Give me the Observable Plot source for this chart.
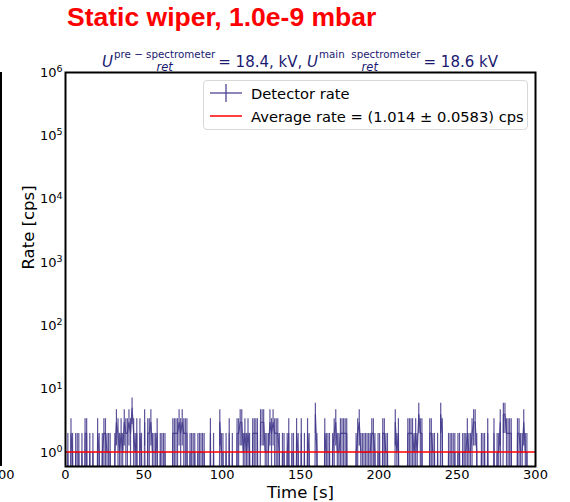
<!DOCTYPE html>
<html>
<head>
<meta charset="utf-8">
<script src="https://cdn.jsdelivr.net/npm/d3@7"></script>
<script src="https://cdn.jsdelivr.net/npm/@observablehq/plot@0.6"></script>
<style>
  html, body { margin: 0; padding: 0; background: #fff; }
  #wrap { position: relative; width: 570px; height: 502px; overflow: hidden; font-family: "DejaVu Sans", sans-serif; }
  #title { position: absolute; left: 67px; top: 2px; font-family: "Liberation Sans", Arial, sans-serif; font-weight: bold; font-size: 26.5px; color: #ff0000; white-space: nowrap; }
  #subtitle { position: absolute; left: 0; width: 600px; top: 51px; text-align: center; font-size: 15px; color: #191970; white-space: nowrap; }
  .ss { display: inline-flex; flex-direction: column; vertical-align: middle; line-height: 1.05; font-size: 10.3px; margin-left: 1px; margin-right: 3px; position: relative; top: -2px; gap: 1px; }
  .ss .sub { font-style: italic; font-size: 11.5px; }
  #legend { position: absolute; left: 203px; top: 80px; width: 323px; height: 48px; border: 1px solid #d8d8d8; border-radius: 4px; background: #fff; font-size: 14.7px; color: #000; }
  .item { position: absolute; left: 6px; display: flex; align-items: center; white-space: nowrap; }
  .item svg { margin-right: 9px; }
  #edge { position: absolute; left: 0; top: 72px; width: 2px; height: 394px; background: #000; }
  #edge00 { position: absolute; left: -2px; top: 467px; font-size: 13px; color: #000; }
</style>
</head>
<body>
<div id="wrap">
  <div id="chart"></div>
  <div id="edge"></div>
  <div id="edge00">00</div>
  <div id="title">Static wiper, 1.0e-9 mbar</div>
  <div id="subtitle"><i>U</i><span class="ss"><span>pre − spectrometer</span><span class="sub">ret</span></span>= 18.4, kV, <i>U</i><span class="ss"><span>main&nbsp; spectrometer</span><span class="sub">ret</span></span>= 18.6 kV</div>
  <div id="legend">
    <div class="item" style="top:2px"><svg width="32" height="20"><line x1="0" y1="10" x2="32" y2="10" stroke="#3f3689" stroke-width="1.2"/><line x1="16" y1="1" x2="16" y2="19" stroke="#3f3689" stroke-width="1.2"/></svg><span>Detector rate</span></div>
    <div class="item" style="top:25px"><svg width="32" height="20"><line x1="0" y1="10" x2="32" y2="10" stroke="#ff0000" stroke-width="1.5"/></svg><span>Average rate = (1.014 ± 0.0583) cps</span></div>
  </div>
</div>
<script>
// counts per 1 s bin (rate in cps)
const counts = [
  0,1,0,2,1,0,1,1,1,0,
  1,0,2,2,0,1,0,1,0,0,
  2,1,0,1,2,2,1,1,1,0,
  0,1,3,2,1,2,1,3,2,2,
  3,2,5,2,1,2,0,2,1,0,
  3,0,2,2,3,1,1,1,2,0,
  1,1,1,1,0,0,0,0,2,2,
  2,2,3,2,3,2,2,2,0,1,
  1,1,1,0,1,1,1,1,1,0,
  0,0,2,0,1,0,0,0,3,1,
  1,0,1,0,2,0,1,0,0,2,
  2,3,3,1,2,1,2,1,0,2,
  2,2,2,0,3,3,3,1,1,1,
  3,2,3,2,2,2,1,0,1,1,
  0,1,2,0,1,1,0,2,1,0,
  2,0,1,0,2,1,0,0,0,4,
  1,0,0,0,0,2,1,1,1,0,
  1,2,3,1,1,2,2,2,2,2,
  0,0,0,0,0,1,2,3,1,1,
  1,1,1,1,1,2,2,1,0,1,
  1,0,2,2,1,1,0,0,0,0,
  3,1,2,0,0,0,0,0,2,2,
  2,2,1,2,1,4,2,2,0,0,
  0,0,2,2,1,1,0,1,0,4,
  2,0,0,0,1,1,1,1,1,0,
  1,1,0,1,1,1,2,1,1,2,
  3,3,1,0,0,1,1,1,0,2,
  0,0,0,2,0,1,1,3,0,4,
  4,2,2,2,2,0,0,0,2,2,
  1,1,3,1,1,0,0,0,0,0
];
const times = counts.map((_, i) => i + 0.5);
const averageRate = 1.014;
const yTicks = [1, 10, 100, 1000, 10000, 100000, 1000000];
const yTickExponents = ["0", "1", "2", "3", "4", "5", "6"];
const xTicks = [0, 50, 100, 150, 200, 250, 300];

const floorVal = 1e-3; // stands for non-positive values on the log axis (clipped)
const pts = counts.map((n, i) => ({t: times[i], n}));
const bars = pts.filter(d => d.n > 0);
const dataColor = "#3f3689";

const chart = Plot.plot({
  width: 570,
  height: 502,
  marginTop: 72,
  marginBottom: 36,
  marginLeft: 65,
  marginRight: 35,
  style: {fontFamily: "DejaVu Sans, sans-serif", fontSize: "13px", color: "#000", background: "transparent"},
  x: {domain: [0, 300], label: null},
  y: {type: "log", domain: [0.6, 1e6], label: null},
  marks: [
    Plot.ruleX(bars, {x: "t", y1: d => Math.max(d.n - Math.sqrt(d.n), floorVal), y2: d => d.n + Math.sqrt(d.n), stroke: dataColor, strokeWidth: 1.2, strokeOpacity: 0.85, clip: true}),
    Plot.line(pts, {x: "t", y: d => d.n > 0 ? d.n : floorVal, stroke: dataColor, strokeWidth: 1.2, strokeOpacity: 0.85, clip: true}),
    Plot.ruleY([averageRate], {x1: 0, x2: 300, stroke: "#ff0000", strokeWidth: 1.5}),
    Plot.frame({stroke: "#000", strokeWidth: 2}),
    Plot.axisX({ticks: xTicks, tickSize: 0, tickPadding: 3, fontSize: 13, label: null}),
    Plot.axisY({ticks: yTicks, tickFormat: v => "10^" + yTickExponents[yTicks.indexOf(v)], tickSize: 0, tickPadding: 3, fontSize: 13, label: null}),
    Plot.text(["Time [s]"], {frameAnchor: "bottom", dy: 31, fontSize: 16.5, fill: "#000"}),
    Plot.text(["Rate [cps]"], {frameAnchor: "left", dx: -37, rotate: -90, fontSize: 16.5, fill: "#000"})
  ]
});
document.getElementById("chart").appendChild(chart);

// render "10^k" tick labels with a real superscript
d3.select(chart).selectAll("text").each(function() {
  const el = d3.select(this);
  const s = el.text();
  const m = /^10\^(\d)$/.exec(s);
  if (m) {
    el.text(null);
    el.append("tspan").text("10");
    el.append("tspan").attr("dy", "-0.5em").attr("font-size", "9.5px").text(m[1]);
  }
});
</script>
</body>
</html>
